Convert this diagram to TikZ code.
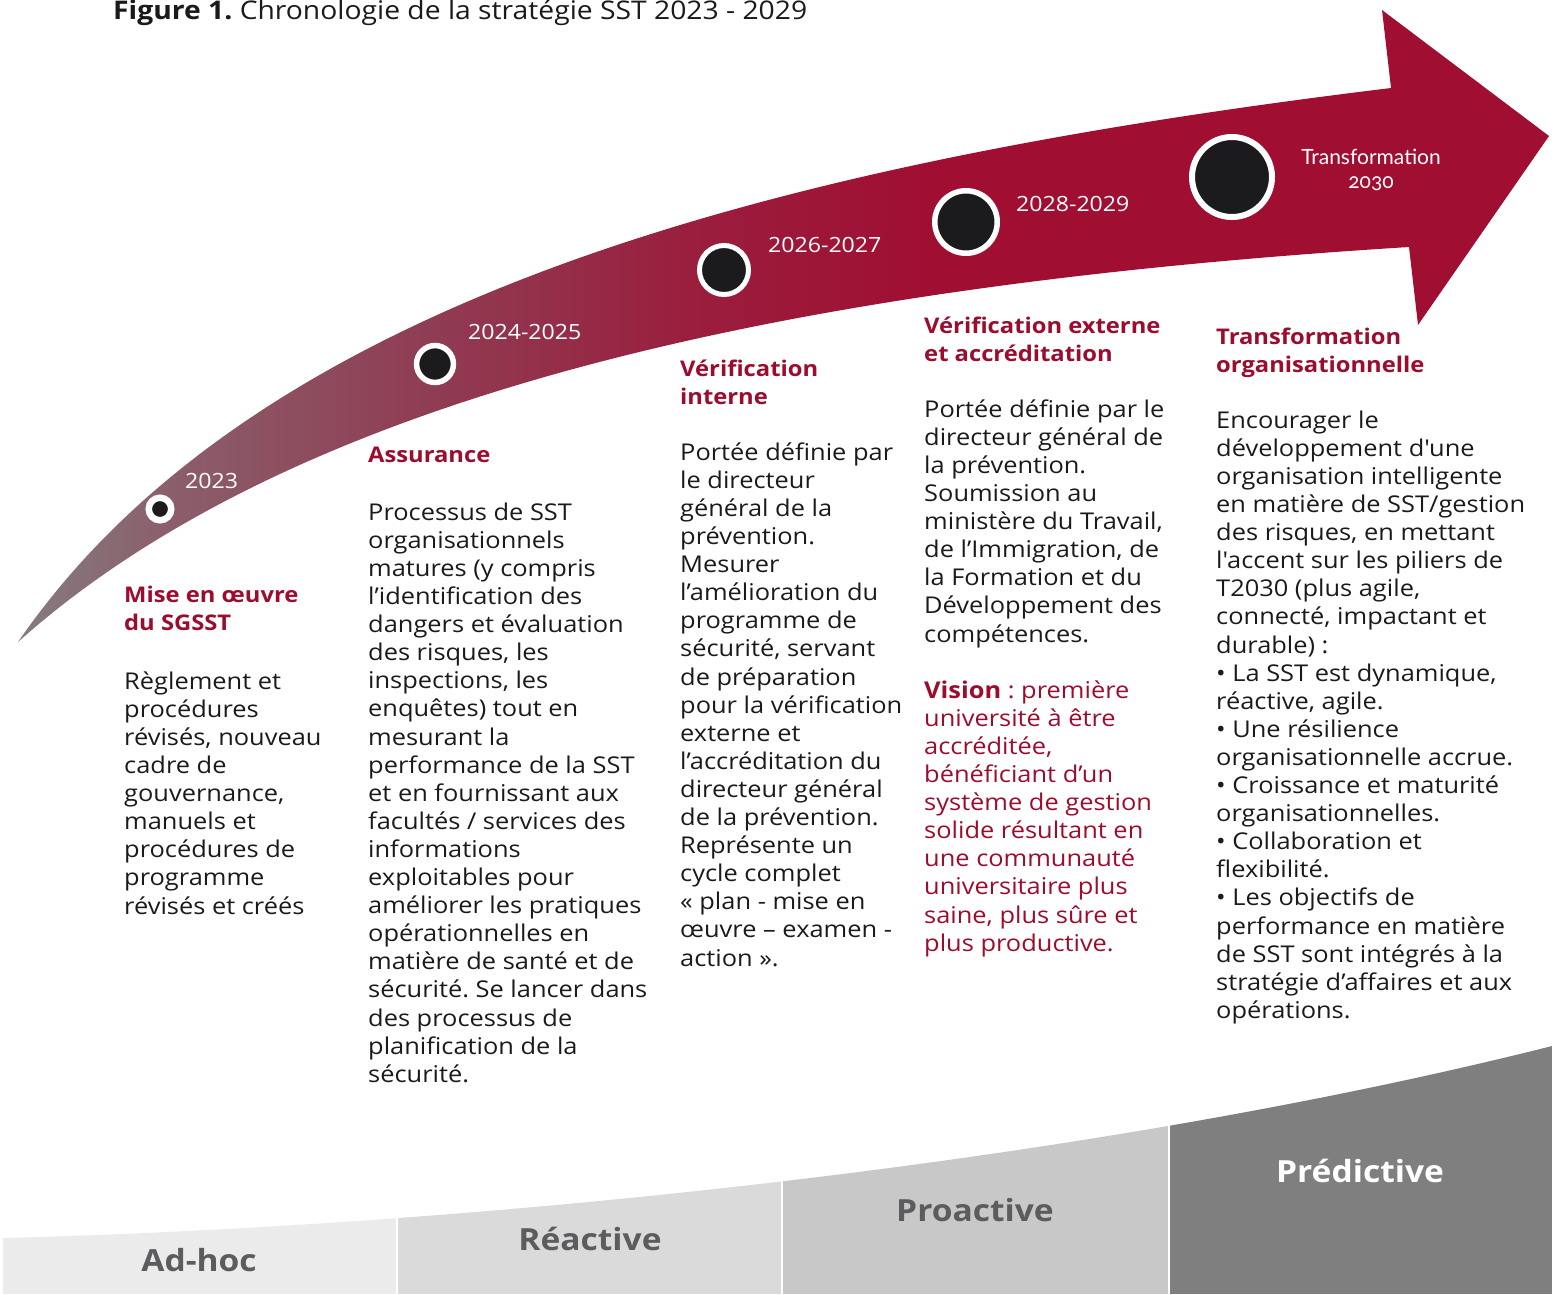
\documentclass[tikz,border=0pt]{standalone}
\usepackage{fontspec}
\setmainfont{Open Sans}[FakeStretch=1.1, Ligatures=TeXOff]
\newfontfamily\tfont[Numbers=OldStyle]{Lato}
\frenchspacing
\definecolor{crim}{RGB}{160,14,50}
\definecolor{hred}{RGB}{155,12,45}
\definecolor{ink}{RGB}{26,26,26}
\definecolor{dotc}{RGB}{27,27,29}
\definecolor{gA}{RGB}{133,124,127}
\definecolor{gB}{RGB}{139,94,107}
\definecolor{gC}{RGB}{143,62,84}
\definecolor{gD}{RGB}{154,30,62}
\definecolor{segA}{RGB}{235,235,235}
\definecolor{segB}{RGB}{218,218,218}
\definecolor{segC}{RGB}{200,200,200}
\definecolor{segD}{RGB}{127,127,127}
\definecolor{lab}{RGB}{92,92,94}
\pgfdeclarehorizontalshading{bandshade}{100bp}{color(0bp)=(gA); color(25bp)=(gA); color(30bp)=(gB); color(38bp)=(gC); color(47bp)=(gD); color(55bp)=(crim); color(100bp)=(crim)}
\newcommand\bodyfont{\fontsize{23.1}{28.1}\selectfont}
\newcommand\headfont{\bfseries\fontsize{21.6}{28}\selectfont}
\newcommand\st{\rule{0pt}{20pt}}
\begin{document}
\begin{tikzpicture}[x=1pt,y=-1pt,
  body/.style={anchor=north west, inner sep=0pt, align=left, font=\bodyfont, text=ink},
  head/.style={anchor=north west, inner sep=0pt, align=left, font=\headfont, text=hred},
  year/.style={anchor=base west, inner sep=0pt, font=\fontsize{21}{24}\selectfont, text=white},
  dot/.style={circle, draw=white, fill=dotc, inner sep=0pt},
  level/.style={anchor=base, inner sep=0pt, font=\bfseries\fontsize{30.5}{36}\selectfont, text=lab}]
\useasboundingbox (0,0) rectangle (1562,1294);
% title
\node[anchor=base west, inner sep=0pt, font=\fontsize{25.7}{30}\selectfont, text=ink] (title) at (113,19) {\textbf{Figure 1.} Chronologie de la stratégie SST 2023 - 2029};
% curved arrow
\path[shading=bandshade] (18,642) .. controls (260,290) and (800,160) .. (1391,88) -- (1382,10) -- (1549,136) -- (1418,325) -- (1409,247) .. controls (800,285) and (300,390) .. (18,642) -- cycle;
% milestones
\node[dot, line width=6.5pt, minimum size=22.5pt] (c1) at (160,509) {};
\node[dot, line width=5.5pt, minimum size=36.9pt] (c2) at (435,364) {};
\node[dot, line width=5pt, minimum size=49pt] (c3) at (724,270) {};
\node[dot, line width=5.5pt, minimum size=62.5pt] (c4) at (966,222) {};
\node[dot, line width=6pt, minimum size=80pt] (c5) at (1232,177) {};
\node[year] (y1) at (185,488) {2023};
\node[year] (y2) at (468,339) {2024-2025};
\node[year] (y3) at (768,252) {2026-2027};
\node[year] (y4) at (1016,211) {2028-2029};
\node[anchor=base, inner sep=0pt, align=center, text=white, font=\tfont\fontsize{21}{24}\selectfont] (y5) at (1371,188) {Transformation\\2030};
% column 1
\node[head] (h1) at (124,582) {\st Mise en œuvre\\du SGSST};
\node[body] (b1) at (124,669) {\st Règlement et\\procédures\\révisés, nouveau\\cadre de\\gouvernance,\\manuels et\\procédures de\\programme\\révisés et créés};
% column 2
\node[head] (h2) at (368,442) {\st Assurance};
\node[body] (b2) at (368,500) {\st Processus de SST\\organisationnels\\matures (y compris\\l’identification des\\dangers et évaluation\\des risques, les\\inspections, les\\enquêtes) tout en\\mesurant la\\performance de la SST\\et en fournissant aux\\facultés / services des\\informations\\exploitables pour\\améliorer les pratiques\\opérationnelles en\\matière de santé et de\\sécurité. Se lancer dans\\des processus de\\planification de la\\sécurité.};
% column 3
\node[head] (h3) at (680,356) {\st Vérification\\interne};
\node[body] (b3) at (680,440) {\st Portée définie par\\le directeur\\général de la\\prévention.\\Mesurer\\l’amélioration du\\programme de\\sécurité, servant\\de préparation\\pour la vérification\\externe et\\l’accréditation du\\directeur général\\de la prévention.\\Représente un\\cycle complet\\« plan - mise en\\œuvre – examen -\\action ».};
% column 4
\node[head] (h4) at (924,313) {\st Vérification externe\\et accréditation};
\node[body] (b4) at (924,397) {\st Portée définie par le\\directeur général de\\la prévention.\\Soumission au\\ministère du Travail,\\de l’Immigration, de\\la Formation et du\\Développement des\\compétences.};
\node[body, text=hred] (v4) at (924,678) {\st\textbf{Vision} : première\\université à être\\accréditée,\\bénéficiant d’un\\système de gestion\\solide résultant en\\une communauté\\universitaire plus\\saine, plus sûre et\\plus productive.};
% column 5
\node[head] (h5) at (1216,324) {\st Transformation\\organisationnelle};
\node[body] (b5) at (1216,408) {\st Encourager le\\développement d'une\\organisation intelligente\\en matière de SST/gestion\\des risques, en mettant\\l'accent sur les piliers de\\T2030 (plus agile,\\connecté, impactant et\\durable) :\\• La SST est dynamique,\\réactive, agile.\\• Une résilience\\organisationnelle accrue.\\• Croissance et maturité\\organisationnelles.\\• Collaboration et\\flexibilité.\\• Les objectifs de\\performance en matière\\de SST sont intégrés à la\\stratégie d’affaires et aux\\opérations.};
% maturity levels
\begin{scope}
\clip (3,1294) -- (3,1238) .. controls (500,1225) and (1100,1160) .. (1552,1046) -- (1552,1294) -- cycle;
\fill[segA] (3,1000) rectangle (396,1294);
\fill[segB] (398,1000) rectangle (781,1294);
\fill[segC] (783,1000) rectangle (1168,1294);
\fill[segD] (1170,1000) rectangle (1552,1294);
\end{scope}
\node[level] (l1) at (199,1271) {Ad-hoc};
\node[level] (l2) at (590,1250) {Réactive};
\node[level] (l3) at (975,1221) {Proactive};
\node[level, text=white] (l4) at (1360,1182) {Prédictive};
\end{tikzpicture}
\end{document}
